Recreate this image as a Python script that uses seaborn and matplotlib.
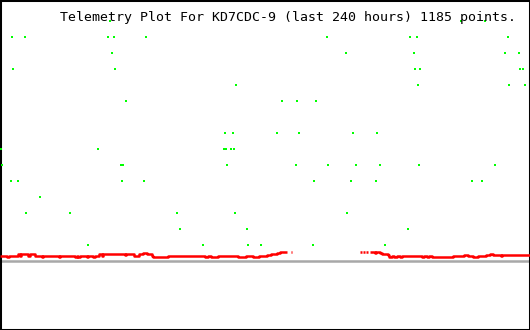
import matplotlib
matplotlib.use("Agg")
import matplotlib.pyplot as plt
import seaborn as sns
import pandas as pd

# ---- data (time axis in plot units 0..530, values in telemetry units) ----
title_text = "Telemetry Plot For KD7CDC-9 (last 240 hours) 1185 points."

green_x = [110, 461, 485,
           12, 25, 108, 114, 146, 327, 410, 417, 508,
           112, 346, 414, 505, 519,
           13, 115, 415, 420, 520, 523,
           236, 418, 509, 525,
           126, 282, 297, 316,
           225, 233, 277, 299, 353, 377,
           1, 98, 224, 226, 231, 234,
           2, 121, 123, 227, 296, 328, 356, 380, 419, 495,
           11, 18, 122, 144, 314, 351, 376, 472, 482,
           40,
           26, 70, 177, 235, 347,
           180, 247, 408,
           88, 203, 248, 261, 313, 385]
green_level = [15] * 3 + [14] * 9 + [13] * 5 + [12] * 6 + [11] * 4 + [10] * 4 + \
              [8] * 6 + [7] * 6 + [6] * 10 + [5] * 9 + [4] * 1 + [3] * 5 + [2] * 3 + [1] * 6

red_x = [0, 7, 9, 18, 20, 21, 28, 30, 35, 42,
         43, 59, 60, 75, 77, 78, 80, 87, 88, 93,
         95, 99, 102, 103, 125, 126, 134, 139, 143, 147,
         152, 153, 168, 205, 208, 211, 218, 238, 246, 253,
         259, 267, 271, 277, 280, 287,
         290.5, 292,
         360, 361.5,
         362.5, 364.5,
         365.5, 367.5,
         370, 375, 376, 380, 382, 388, 389, 392, 394, 397,
         400, 402, 422, 424, 427, 429, 432, 453, 464, 468,
         473, 478, 486, 490, 493, 501, 502, 530]
red_y = [.31, .21, .31, .42, .31, .42, .31, .42, .31, .25,
         .31, .25, .31, .25, .31, .25, .31, .25, .31, .25,
         .31, .42, .31, .42, .36, .42, .31, .42, .48, .42,
         .31, .25, .31, .25, .31, .25, .31, .25, .31, .25,
         .31, .38, .44, .50, .56, .56,
         .56, .56,
         .56, .56,
         .56, .56,
         .56, .56,
         .56, .50, .56, .50, .44, .38, .25, .31, .25, .31,
         .25, .31, .25, .31, .25, .31, .25, .31, .38, .31,
         .25, .31, .38, .44, .38, .31, .38, .38]
red_seg = [0] * 46 + [1] * 2 + [2] * 2 + [3] * 2 + [4] * 2 + [5] * 28

baseline_value = 0.0

green_df = pd.DataFrame({"t": green_x, "v": green_level})
red_df = pd.DataFrame({"t": red_x, "v": red_y, "seg": red_seg})

# ---- plot ----
sns.set_style("white")
plt.rcParams["font.family"] = ["DejaVu Sans Mono", "DejaVu Sans"]

fig = plt.figure(figsize=(5.3, 3.3), dpi=100)
ax = fig.add_axes([0, 0, 1, 1])

ax.axhline(baseline_value, color="#a8a8a8", lw=1.8, zorder=1)

sns.lineplot(data=red_df, x="t", y="v", units="seg", estimator=None,
             color="#ff0000", lw=1.8, drawstyle="steps-post", ax=ax,
             legend=False, zorder=3, solid_capstyle="butt")

sns.scatterplot(data=green_df, x="t", y="v", marker="s", s=3.0,
                color="#00ff00", linewidth=0, ax=ax, legend=False, zorder=4)

ax.set_xlim(0, 530)
ax.set_ylim(-4.33, 16.29)
ax.set_xticks([])
ax.set_yticks([])
ax.set_xlabel("")
ax.set_ylabel("")
for sp in ax.spines.values():
    sp.set_visible(True)
    sp.set_color("black")
    sp.set_linewidth(2.2)

fig.text(60 / 530, 1 - 17.5 / 330, title_text, ha="left", va="center",
         fontsize=9.55, color="black")

fig.savefig("out.png", dpi=100, facecolor="white")
